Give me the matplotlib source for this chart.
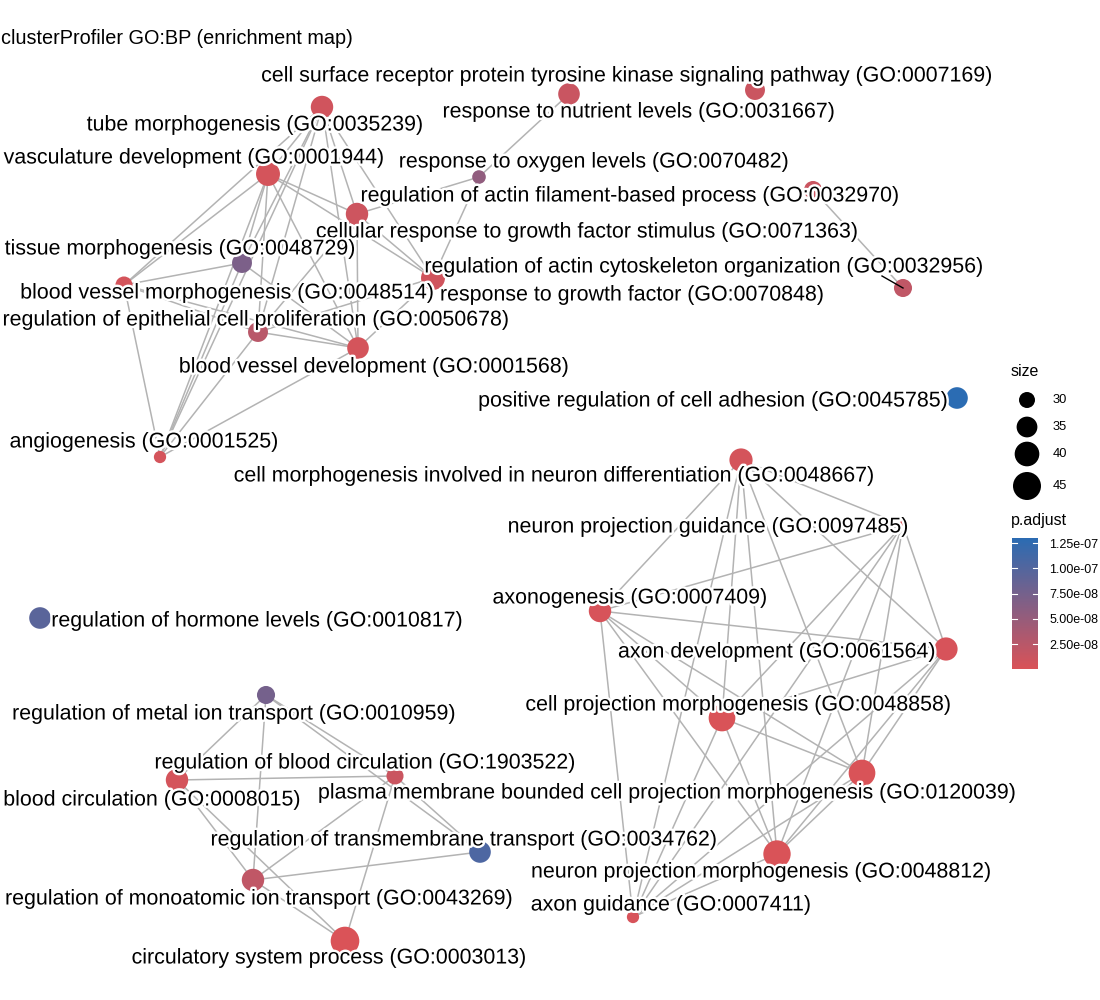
import matplotlib
matplotlib.use("Agg")
import matplotlib.pyplot as plt
import matplotlib.patheffects as pe
from matplotlib.colors import LinearSegmentedColormap, Normalize
import numpy as np

# ---------------- data ----------------
terms = [
    "tube morphogenesis (GO:0035239)",
    "vasculature development (GO:0001944)",
    "cell surface receptor protein tyrosine kinase signaling pathway (GO:0007169)",
    "response to nutrient levels (GO:0031667)",
    "response to oxygen levels (GO:0070482)",
    "regulation of actin filament-based process (GO:0032970)",
    "cellular response to growth factor stimulus (GO:0071363)",
    "regulation of actin cytoskeleton organization (GO:0032956)",
    "response to growth factor (GO:0070848)",
    "tissue morphogenesis (GO:0048729)",
    "blood vessel morphogenesis (GO:0048514)",
    "regulation of epithelial cell proliferation (GO:0050678)",
    "blood vessel development (GO:0001568)",
    "angiogenesis (GO:0001525)",
    "positive regulation of cell adhesion (GO:0045785)",
    "cell morphogenesis involved in neuron differentiation (GO:0048667)",
    "neuron projection guidance (GO:0097485)",
    "axonogenesis (GO:0007409)",
    "axon development (GO:0061564)",
    "cell projection morphogenesis (GO:0048858)",
    "plasma membrane bounded cell projection morphogenesis (GO:0120039)",
    "neuron projection morphogenesis (GO:0048812)",
    "axon guidance (GO:0007411)",
    "regulation of hormone levels (GO:0010817)",
    "regulation of metal ion transport (GO:0010959)",
    "regulation of blood circulation (GO:1903522)",
    "blood circulation (GO:0008015)",
    "regulation of transmembrane transport (GO:0034762)",
    "regulation of monoatomic ion transport (GO:0043269)",
    "circulatory system process (GO:0003013)",
]
keys = ["tube", "vasc", "csr", "nutr", "oxy", "actf", "cgf", "actc", "rgf", "tiss",
        "bvm", "epi", "bvd", "ang", "adh", "cmnd", "npg", "axg", "axd", "cpm",
        "pmb", "npm", "axgd", "horm", "metal", "rbc", "bc", "tmt", "mono", "circ"]

gene_count = [37, 39, 34, 36, 28, 32, 37, 32, 39, 34,
              31, 34, 36, 27, 36, 38, 25, 37, 38, 43,
              43, 44, 27, 36, 32, 31, 37, 36, 37, 46]

p_adjust = [8e-09, 5e-09, 1.2e-08, 1.3e-08, 5.5e-08, 1.2e-08, 1e-08, 2e-08, 8e-09, 7e-08,
            5e-09, 2.5e-08, 5e-09, 5e-09, 1.3e-07, 5e-09, 3e-09, 3e-09, 3e-09, 1e-09,
            1e-09, 1e-09, 3e-09, 9.5e-08, 7.5e-08, 1.2e-08, 5e-09, 1.05e-07, 2e-08, 3e-10]

# graph layout coordinates
layout_x = [322, 268, 755, 569, 479, 813, 357, 903, 433, 242,
            124, 258, 358, 160, 957, 741, 903, 600, 946, 722,
            862, 777, 633, 40, 266, 395, 177, 480, 253, 345]
layout_y = [107, 174, 90, 94, 177, 190, 214, 288, 278, 263,
            285, 332, 348, 457, 398, 460, 525, 611, 649, 718,
            773, 854, 917, 618, 695, 776, 780, 852, 880, 941]

# repelled label positions
label_x = [255, 194, 627, 639, 594, 630, 587, 704, 632, 180,
           227, 256, 374, 144, 713, 554, 708, 630, 777, 738,
           667, 761, 671, 257, 234, 365, 152, 464, 259, 329]
label_y = [125, 158, 76, 112, 162, 196, 232, 267, 295, 249,
           293, 320, 367, 442, 401, 476, 527, 598, 652, 705,
           793, 872, 905, 621, 714, 763, 800, 840, 899, 958]

edges = [
    ("tube", "vasc"), ("tube", "bvm"), ("tube", "tiss"), ("tube", "epi"), ("tube", "ang"),
    ("tube", "cgf"), ("tube", "bvd"), ("tube", "rgf"),
    ("vasc", "bvm"), ("vasc", "tiss"), ("vasc", "epi"), ("vasc", "ang"), ("vasc", "cgf"),
    ("vasc", "rgf"), ("vasc", "bvd"),
    ("tiss", "bvm"), ("tiss", "bvd"), ("tiss", "ang"),
    ("bvm", "epi"), ("bvm", "bvd"), ("bvm", "ang"),
    ("epi", "bvd"), ("epi", "rgf"), ("epi", "cgf"), ("epi", "ang"),
    ("bvd", "cgf"), ("bvd", "rgf"), ("bvd", "ang"),
    ("cgf", "rgf"), ("cgf", "oxy"), ("rgf", "oxy"), ("oxy", "nutr"),
    ("actf", "actc"),
    ("metal", "bc"), ("metal", "mono"), ("metal", "rbc"), ("metal", "tmt"),
    ("bc", "rbc"), ("bc", "mono"), ("bc", "circ"),
    ("rbc", "mono"), ("rbc", "circ"), ("rbc", "tmt"),
    ("mono", "tmt"), ("mono", "circ"),
]
neuro = ["cmnd", "npg", "axg", "axd", "cpm", "pmb", "npm", "axgd"]
for i in range(len(neuro)):
    for j in range(i + 1, len(neuro)):
        edges.append((neuro[i], neuro[j]))

size_breaks = [30, 35, 40, 45]
p_breaks = [2.5e-08, 5.0e-08, 7.5e-08, 1.0e-07, 1.25e-07]
p_break_labels = ["2.50e-08", "5.00e-08", "7.50e-08", "1.00e-07", "1.25e-07"]

title = "clusterProfiler GO:BP (enrichment map)"

# ---------------- styling ----------------
plt.rcParams['font.family'] = ['Liberation Sans', 'DejaVu Sans']
W, H, DPI = 1100, 1000, 100
fig = plt.figure(figsize=(W / DPI, H / DPI), dpi=DPI)
fig.patch.set_facecolor("white")
ax = fig.add_axes([0, 0, 1, 1])
ax.set_xlim(0, W)
ax.set_ylim(H, 0)
ax.axis("off")

cmap = LinearSegmentedColormap.from_list("padj", ["#DA5358", "#2B6CB3"])
pmin, pmax = min(p_adjust), max(p_adjust)
norm = Normalize(vmin=pmin, vmax=pmax)


def size_to_area(s):
    d_px = np.sqrt(np.maximum(35.2 * np.asarray(s, float) - 800.0, 30.0))
    return (d_px * 72.0 / DPI) ** 2


idx = {k: i for i, k in enumerate(keys)}
for a, b in edges:
    i, j = idx[a], idx[b]
    ax.plot([layout_x[i], layout_x[j]], [layout_y[i], layout_y[j]],
            color="#B3B3B3", lw=1.1, zorder=1, solid_capstyle="round")

ax.scatter(layout_x, layout_y, s=size_to_area(gene_count),
           c=cmap(norm(p_adjust)), edgecolors="none", zorder=2)

# repel segment for actin cytoskeleton label
k = idx["actc"]
ax.plot([label_x[k] + 178, layout_x[k]], [label_y[k] + 9, layout_y[k]],
        color="black", lw=1.0, zorder=3)

for i, t in enumerate(terms):
    ax.text(label_x[i], label_y[i], t, ha="center", va="center", fontsize=15.4,
            color="black", zorder=4,
            path_effects=[pe.withStroke(linewidth=3.5, foreground="white")])

ax.text(1, 38, title, ha="left", va="center", fontsize=14.3, color="black")

# ---------------- size legend ----------------
ax.text(1011, 371, "size", ha="left", va="center", fontsize=11.5)
leg_y = [400, 427, 454, 486]
ax.scatter([1027] * 4, leg_y, s=size_to_area(size_breaks), c="black",
           edgecolors="none", zorder=5)
for yy, lab in zip(leg_y, size_breaks):
    ax.text(1053, yy, str(lab), ha="left", va="center", fontsize=9.3)

# ---------------- colour bar ----------------
ax.text(1011, 521, "p.adjust", ha="left", va="center", fontsize=11.5)
cax = fig.add_axes([1012 / W, 1 - 669 / H, 26 / W, 131 / H])
grad = np.linspace(pmin, pmax, 256).reshape(-1, 1)
cax.imshow(grad, aspect="auto", cmap=cmap, norm=norm, origin="lower",
           extent=[0, 1, pmin, pmax])
cax.set_xlim(0, 1)
cax.set_ylim(pmin, pmax)
for b in p_breaks:
    cax.plot([0, 0.2], [b, b], color="white", lw=0.8)
    cax.plot([0.8, 1], [b, b], color="white", lw=0.8)
cax.set_xticks([])
cax.set_yticks(p_breaks)
cax.set_yticklabels(p_break_labels, fontsize=9)
cax.yaxis.tick_right()
cax.tick_params(axis="y", length=0, pad=8)
for s in cax.spines.values():
    s.set_visible(False)

fig.savefig("out.png", dpi=DPI, facecolor="white")
